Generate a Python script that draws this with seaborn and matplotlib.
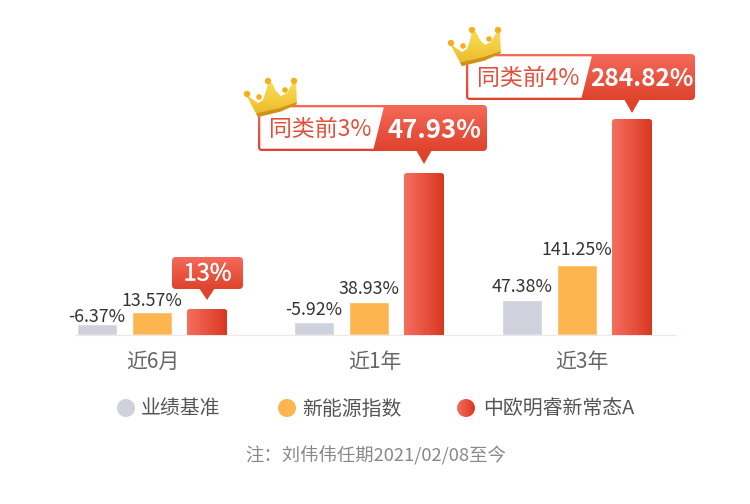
import numpy as np
import pandas as pd
import seaborn as sns
import matplotlib
matplotlib.use("Agg")
import matplotlib.pyplot as plt
import matplotlib.patheffects as pe
from matplotlib.colors import LinearSegmentedColormap
from matplotlib.patches import Circle, FancyBboxPatch, Polygon

periods = ["近6月", "近1年", "近3年"]
series_names = ["业绩基准", "新能源指数", "中欧明睿新常态A"]
# the bars in the picture are not to scale, so heights are read from the picture
benchmark_heights = [11, 13, 35]
index_heights = [23, 33, 70]
fund_heights = [26, 162, 216]
benchmark_labels = ["-6.37%", "-5.92%", "47.38%"]
index_labels = ["13.57%", "38.93%", "141.25%"]
fund_labels = ["13%", "47.93%", "284.82%"]
ranks = [None, "同类前3%", "同类前4%"]
note = "注：刘伟伟任期2021/02/08至今"

GRAY = "#cfd2dc"
ORANGE = "#fdb64f"
RED_L = "#f56e5e"
RED_R = "#d93822"

df = pd.DataFrame({
    "period": periods * 3,
    "series": np.repeat(series_names, 3),
    "height": benchmark_heights + index_heights + fund_heights,
})

sns.set_theme(style="white")
plt.rcParams["font.family"] = ["Noto Sans CJK SC", "DejaVu Sans"]

W, H = 750, 504
BASE_Y = 335
fig = plt.figure(figsize=(W / 100, H / 100), dpi=100)
ax = fig.add_axes([0, 0, 1, 1])
sns.barplot(data=df, x="period", y="height", hue="series", order=periods,
            hue_order=series_names, palette=[GRAY, ORANGE, RED_R], saturation=1,
            width=0.7765, gap=0.273, legend=False, ax=ax)
unit = 212.5
ax.set_xlim(-152 / unit, (W - 152) / unit)
ax.set_ylim(BASE_Y - H, BASE_Y)
ax.axis("off")

# overlay in pixel coordinates for rounded bars, callouts and legend
ov = fig.add_axes([0, 0, 1, 1])
ov.set_xlim(0, W)
ov.set_ylim(H, 0)
ov.axis("off")
ov.patch.set_alpha(0)

red_h = LinearSegmentedColormap.from_list("red_h", [RED_L, RED_R])
red_v = LinearSegmentedColormap.from_list("red_v", ["#f5695a", "#df432c"])
gold = LinearSegmentedColormap.from_list("gold", ["#f8dc58", "#f3cb3c", "#e8b42a"])


def to_px(x, y):
    px, py = ax.transData.transform((x, y))
    return px, H - py


def gradient(extent, clip, cmap, horizontal=False):
    g = np.linspace(0, 1, 64)
    g = g.reshape(1, -1) if horizontal else g.reshape(-1, 1)
    im = ov.imshow(g, extent=extent, cmap=cmap, aspect="auto", origin="upper",
                   zorder=clip.get_zorder() + 0.1)
    im.set_clip_path(clip)
    return im


def rounded(x0, y0, x1, y1, r, zorder=3, **kw):
    p = FancyBboxPatch((x0, y0), x1 - x0, y1 - y0,
                       boxstyle=f"round,pad=0,rounding_size={r}",
                       zorder=zorder, **kw)
    ov.add_patch(p)
    return p


def crown(dx, dy):
    outline = [(245, 93), (252, 99), (258, 103), (263, 100), (266, 91), (268, 83),
               (272, 83), (276, 91), (281, 96), (287, 93), (292, 84), (296, 82),
               (297, 104), (281, 111), (258, 117)]
    pts = [(x + dx, y + dy) for x, y in outline]
    shape = Polygon(pts, closed=True, fc="none", ec="none", zorder=6)
    ov.add_patch(shape)
    gradient((244 + dx, 298 + dx, 118 + dy, 82 + dy), shape, gold)
    band = [(258, 117), (281, 111.5), (297, 104), (296, 102.5), (280, 108), (256, 113.5)]
    ov.add_patch(Polygon([(x + dx, y + dy) for x, y in band], closed=True,
                         fc="#cf9219", ec="none", zorder=7))
    for x, y, r in [(247, 94, 3.2), (259, 97, 2.8), (268, 81, 3.2),
                    (285, 90, 2.8), (294, 81, 3.2)]:
        ov.add_patch(Circle((x + dx, y + dy), r, fc="#f6ae1d", ec="none", zorder=8))


def callout(tip_x, tip_y, value, rank):
    if rank is None:
        left, right, top, bottom = tip_x - 35, tip_x + 36, tip_y - 43, tip_y - 11
    else:
        left, right, top, bottom = tip_x - 166, tip_x + 63, tip_y - 59, tip_y - 13
    box = rounded(left, top, right, bottom, 4, fc="none", ec="none")
    gradient((left, right, bottom, top), box, red_v)
    ov.add_patch(Polygon([(tip_x - 8, bottom - 1), (tip_x + 8, bottom - 1), (tip_x, tip_y)],
                         closed=True, fc="#df432c", ec="none", zorder=3))
    mid = (top + bottom) / 2
    if rank is None:
        ov.text((left + right) / 2, mid + 1, value, color="white", fontsize=17,
                ha="center", va="center", zorder=5,
                path_effects=[pe.withStroke(linewidth=0.2, foreground="white")])
        return
    ov.add_patch(Polygon([(left + 3, top + 3), (left + 125, top + 3),
                          (left + 115, bottom - 3), (left + 3, bottom - 3)],
                         closed=True, fc="white", ec="white", lw=1,
                         joinstyle="round", zorder=4))
    ov.text(left + 62, mid + 1, rank, color="#e2503c",
            fontsize=16.5, ha="center", va="center", zorder=5)
    size = 18.5 if len(value) < 7 else 17.6
    ov.text((left + 115 + right) / 2 + 4, mid + 2, value, color="white",
            fontsize=size, fontweight="bold", ha="center", va="center", zorder=5)


all_labels = [benchmark_labels, index_labels, fund_labels]
group_shift = [0, 4.5 / unit, 0]
tip_gaps = [9, 9, 6]
label_lifts = [[-2, 3, 4], [2, 4, 6]]
for s, container in enumerate(ax.containers):
    for g, bar in enumerate(container):
        bar.set_x(bar.get_x() + group_shift[g])
        x0, y0 = to_px(bar.get_x(), bar.get_height())
        x1, _ = to_px(bar.get_x() + bar.get_width(), 0)
        clip = rounded(x0, y0, x1, BASE_Y + 8, 3, zorder=2, fc="none", ec="none")
        bar.set_clip_path(clip.get_path(), clip.get_transform())
        cx = (x0 + x1) / 2
        if s == 2:
            gradient((x0, x1, BASE_Y, y0), clip, red_h, horizontal=True)
            callout(cx, y0 - tip_gaps[g], all_labels[s][g], ranks[g])
        else:
            ov.text(cx, y0 - label_lifts[s][g], all_labels[s][g], color="#333333",
                    fontsize=12.8, ha="center", va="bottom", zorder=5)

ov.plot([75, 676], [BASE_Y, BASE_Y], color="#f3e6ea", lw=1, zorder=1)

crown(0, 0)
crown(204, -51)

for label, x in zip(periods, [153, 375, 582]):
    ov.text(x, 361.5, label, color="#666666", fontsize=15, ha="center", va="center")

for name, cx, tx, fill in zip(series_names, [126, 287, 466], [141, 302, 483], [GRAY, ORANGE, None]):
    dot = Circle((cx, 408), 9, fc=fill if fill else "none", ec="none", zorder=3)
    ov.add_patch(dot)
    if fill is None:
        gradient((cx - 9, cx + 9, 417, 399), dot, red_h, horizontal=True)
    ov.text(tx, 409, name, color="#555555", fontsize=14.3, ha="left", va="center")

ov.text(376, 455.5, note, color="#888888", fontsize=13.2, ha="center", va="center")

fig.savefig("out.png", dpi=100)
